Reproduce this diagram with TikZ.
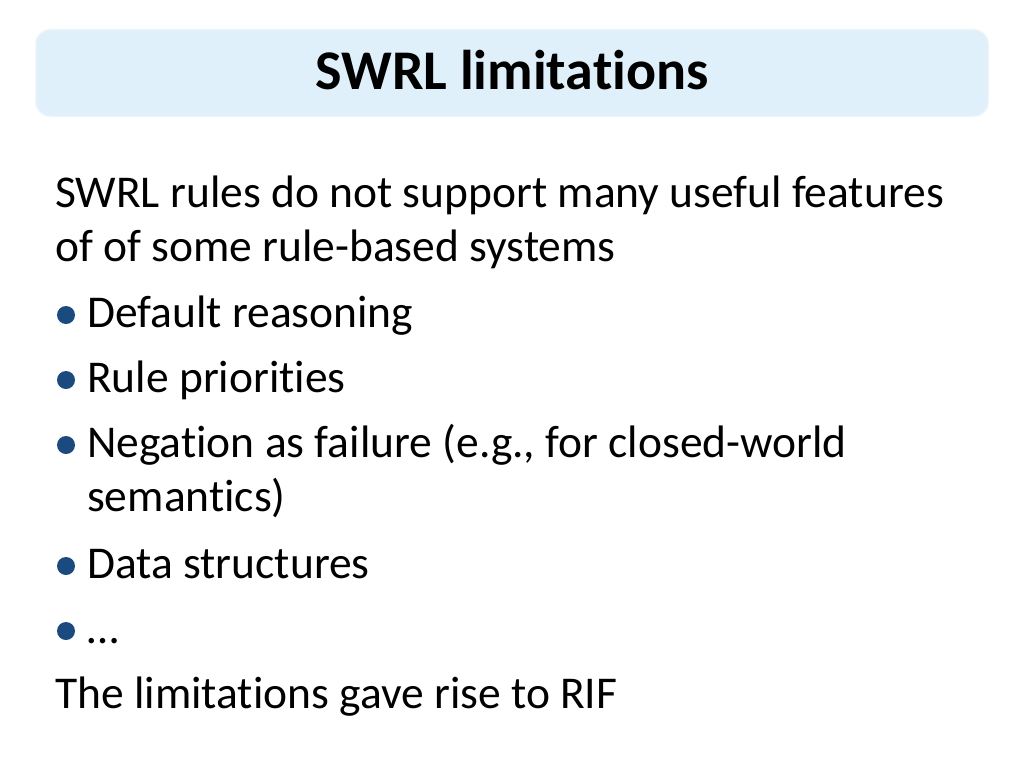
\documentclass[tikz,border=0pt]{standalone}
\usepackage{fontspec}
\setmainfont[Ligatures=NoCommon]{Carlito}
\definecolor{tfill}{HTML}{DFF0FB}
\definecolor{tedge}{HTML}{E8F3FB}
\definecolor{dotc}{HTML}{1B4A7E}
\begin{document}
\begin{tikzpicture}[x=1pt,y=-1pt,
  txt/.style={anchor=base west,inner sep=0pt,font=\fontsize{45.5}{50}\selectfont},
  dot/.style={circle,fill=dotc,minimum size=18pt,inner sep=0pt}]
\useasboundingbox (0,0) rectangle (1024,768);
\node[draw=tedge,fill=tfill,line width=1.5pt,rounded corners=14pt,minimum width=952pt,minimum height=86pt] (title) at (512,73) {};
\node[anchor=base,inner sep=0pt,font=\fontsize{56}{60}\selectfont\bfseries] (tt) at (512,89) {SWRL limitations};
\node[txt] (l1) at (55,207) {SWRL rules do not support many useful features};
\node[txt] (l2) at (55,261) {of of some rule-based systems};
\node[dot] (d1) at (66,315) {};
\node[txt] (b1) at (87,327) {Default reasoning};
\node[dot] (d2) at (66,380) {};
\node[txt] (b2) at (87,392) {Rule priorities};
\node[dot] (d3) at (66,445) {};
\node[txt] (b3) at (87,457) {Negation as failure (e.g., for closed-world};
\node[txt] (b3b) at (87,511) {semantics)};
\node[dot] (d4) at (66,566) {};
\node[txt] (b4) at (87,578) {Data structures};
\node[dot] (d5) at (66,631) {};
\node[txt] (b5) at (87,643) {…};
\node[txt] (l3) at (55,708) {The limitations gave rise to RIF};
\end{tikzpicture}
\end{document}
